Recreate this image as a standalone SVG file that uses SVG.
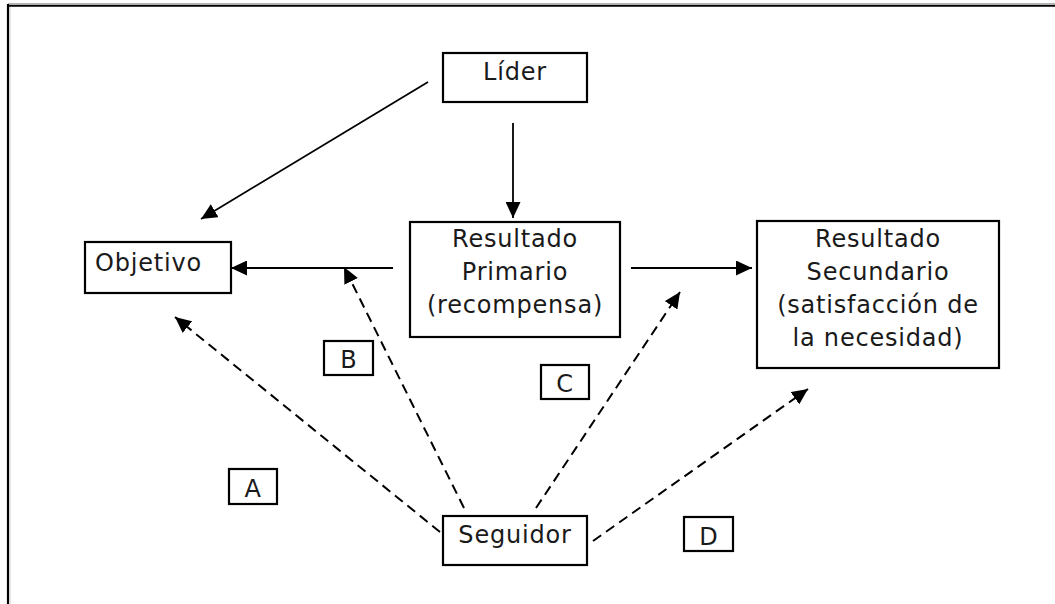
<svg xmlns="http://www.w3.org/2000/svg" width="1055" height="604" viewBox="0 0 1055 604">
  <style>
    .box { fill: #ffffff; stroke: #000000; stroke-width: 2.2; }
    .lbl { font-family: "DejaVu Sans", "Liberation Sans", sans-serif; font-size: 24px; fill: #1a1a1a; letter-spacing: 0.8px; text-anchor: middle; }
    .solid { fill: none; stroke: #000000; stroke-width: 1.8; marker-end: url(#head); }
    .dash { fill: none; stroke: #000000; stroke-width: 2; stroke-dasharray: 10 6; marker-end: url(#head); }
  </style>
  <defs>
    <marker id="head" markerUnits="userSpaceOnUse" markerWidth="16" markerHeight="15" refX="16" refY="7.5" orient="auto">
      <path d="M0,0 L16,7.5 L0,15 z" fill="#000000"/>
    </marker>
  </defs>

  <rect width="1055" height="604" fill="#ffffff"/>

  <!-- page frame: top and left edges -->
  <g id="frame">
    <line x1="8" y1="4" x2="1055" y2="4" stroke="#666666" stroke-width="1.2"/>
    <line x1="8" y1="5.8" x2="1055" y2="5.8" stroke="#000000" stroke-width="1.8"/>
    <line x1="8" y1="4" x2="8" y2="604" stroke="#000000" stroke-width="2.2"/>
    <line x1="10" y1="7" x2="10" y2="604" stroke="#cccccc" stroke-width="1"/>
  </g>

  <g id="connectors">
    <!-- solid arrows -->
    <line class="solid" x1="513" y1="123" x2="513" y2="218"/>
    <line class="solid" x1="428" y1="82" x2="201" y2="219"/>
    <line class="solid" x1="393" y1="268" x2="231" y2="268"/>
    <line class="solid" x1="631" y1="268" x2="752" y2="268"/>
    <!-- dashed arrows from the follower -->
    <line class="dash" x1="440" y1="532" x2="175" y2="317"/>
    <line class="dash" x1="464" y1="508" x2="344" y2="267"/>
    <line class="dash" x1="536" y1="508" x2="680" y2="292"/>
    <line class="dash" x1="593" y1="541" x2="808" y2="389"/>
  </g>

  <g id="lider">
    <rect class="box" x="443" y="53" width="144" height="49"/>
    <text class="lbl" x="515" y="80">Líder</text>
  </g>

  <g id="objetivo">
    <rect class="box" x="85" y="242" width="146" height="51"/>
    <text class="lbl" x="95" y="271" style="text-anchor: start">Objetivo</text>
  </g>

  <g id="resultado-primario">
    <rect class="box" x="410" y="222" width="210" height="115"/>
    <text class="lbl" x="515" y="247">Resultado</text>
    <text class="lbl" x="515" y="280">Primario</text>
    <text class="lbl" x="515" y="313">(recompensa)</text>
  </g>

  <g id="resultado-secundario">
    <rect class="box" x="757" y="221" width="242" height="147"/>
    <text class="lbl" x="878" y="247">Resultado</text>
    <text class="lbl" x="878" y="280">Secundario</text>
    <text class="lbl" x="878" y="313">(satisfacción de</text>
    <text class="lbl" x="878" y="346">la necesidad)</text>
  </g>

  <g id="seguidor">
    <rect class="box" x="443" y="516" width="144" height="49"/>
    <text class="lbl" x="515" y="543">Seguidor</text>
  </g>

  <g id="label-a">
    <rect class="box" x="229" y="469" width="48" height="35"/>
    <text class="lbl" x="253" y="497">A</text>
  </g>
  <g id="label-b">
    <rect class="box" x="324" y="341" width="49" height="34"/>
    <text class="lbl" x="349" y="368">B</text>
  </g>
  <g id="label-c">
    <rect class="box" x="541" y="365" width="48" height="34"/>
    <text class="lbl" x="565" y="392">C</text>
  </g>
  <g id="label-d">
    <rect class="box" x="684" y="517" width="49" height="34"/>
    <text class="lbl" x="709" y="545">D</text>
  </g>
</svg>
